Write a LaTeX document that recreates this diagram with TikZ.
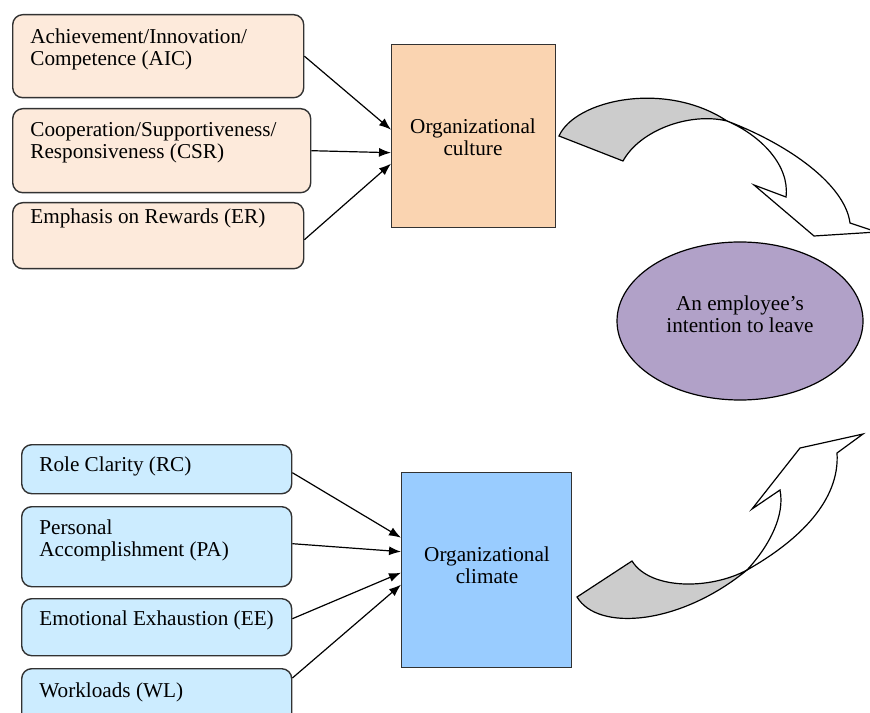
\documentclass[tikz,border=0pt]{standalone}
\usepackage{fontspec}
\setmainfont{Liberation Serif}
\usetikzlibrary{arrows.meta,shapes.geometric}
\definecolor{peachlight}{RGB}{253,234,219}
\definecolor{peach}{RGB}{250,212,177}
\definecolor{bluelight}{RGB}{204,236,255}
\definecolor{blue}{RGB}{153,204,255}
\definecolor{lavender}{RGB}{177,161,200}
\definecolor{edge}{RGB}{50,50,50}
\begin{document}
\begin{tikzpicture}[x=0.5pt, y=0.5pt,
        every node/.style={font=\fontsize{10.6}{11}\selectfont},
        factor/.style={draw=edge, line width=0.7pt, rounded corners=5pt, anchor=north west},
        centerbox/.style={draw=edge, line width=0.7pt, anchor=north west},
        factortext/.style={anchor=north west, inner sep=0pt, align=left},
        link/.style={line width=0.6pt, -{Latex[length=6pt,width=4.5pt]}},
        bentarrow/.style={draw=black, line width=0.6pt, line join=miter}]
    \useasboundingbox (0,0) rectangle (870,712);
    \clip (0,0) rectangle (870,712);

    \node[factor, fill=peachlight, minimum width=145.5pt, minimum height=41.5pt] (aic) at (12,698) {};
    \node[factortext] (aictext) at (30,683.5) {Achievement/Innovation/\\Competence (AIC)};
    \node[factor, fill=peachlight, minimum width=149pt, minimum height=42pt] (csr) at (12,604) {};
    \node[factortext] (csrtext) at (30,589.5) {Cooperation/Supportiveness/\\Responsiveness (CSR)};
    \node[factor, fill=peachlight, minimum width=145.5pt, minimum height=33pt] (er) at (12,510) {};
    \node[factortext] (ertext) at (30,504) {Emphasis on Rewards (ER)};
    \node[centerbox, fill=peach, minimum width=82pt, minimum height=91.5pt] (culture) at (391,668) {};
    \node[align=center] (culturetext) at (473,575) {Organizational\\culture};

    \node[factor, fill=bluelight, minimum width=135pt, minimum height=24.5pt] (rc) at (21,268) {};
    \node[factortext] (rctext) at (39,256) {Role Clarity (RC)};
    \node[factor, fill=bluelight, minimum width=135pt, minimum height=40pt] (pa) at (21,206) {};
    \node[factortext] (patext) at (39,192.6) {Personal\\Accomplishment (PA)};
    \node[factor, fill=bluelight, minimum width=135pt, minimum height=28.5pt] (ee) at (21,114) {};
    \node[factortext] (eetext) at (39,101.6) {Emotional Exhaustion (EE)};
    \node[factor, fill=bluelight, minimum width=135pt, minimum height=35pt] (wl) at (21,44) {};
    \node[factortext] (wltext) at (39,30) {Workloads (WL)};
    \node[centerbox, fill=blue, minimum width=85pt, minimum height=97.5pt] (climate) at (401,240) {};
    \node[align=center] (climatetext) at (487,147) {Organizational\\climate};

    \node[ellipse, draw=black, line width=0.6pt, fill=lavender, minimum width=123pt, minimum height=79pt] (leave) at (740,391) {};
    \node[align=center] (leavetext) at (740,398) {An employee's\\intention to leave};

    \draw[link] (aic.east) -- ([yshift=3.25pt]culture.west);
    \draw[link] (csr.east) -- ([yshift=-8.25pt]culture.west);
    \draw[link] ([yshift=-2pt]er.east) -- ([yshift=-13.75pt]culture.west);

    \draw[link] ([yshift=-1.75pt]rc.east) -- ([yshift=16.25pt]climate.west);
    \draw[link] ([yshift=1.5pt]pa.east) -- ([yshift=9.25pt]climate.west);
    \draw[link] ([yshift=4.25pt]ee.east) -- ([yshift=-1.25pt]climate.west);
    \draw[link] ([yshift=-5pt]wl.north east) -- ([yshift=-7.25pt]climate.west);

    \draw[bentarrow, fill=gray!40] (559,576) -- (623,551) .. controls (640,582) and (690,600) .. (727,591)
        .. controls (665,632) and (575,612) .. (559,576) -- cycle;
    \draw[bentarrow, fill=white] (727,591) .. controls (760,577) and (790,547) .. (786,515) -- (754,527) -- (814,476)
        -- (877,480) -- (850,489) .. controls (845,527) and (790,567) .. (727,591) -- cycle;

    \draw[bentarrow, fill=gray!40] (577,115) -- (632,151) .. controls (650,122) and (710,122) .. (747,142)
        .. controls (680,87) and (598,80) .. (577,115) -- cycle;
    \draw[bentarrow, fill=white] (747,142) .. controls (770,167) and (785,197) .. (780,222) -- (752,203) -- (800,264)
        -- (863,278) -- (837,259) .. controls (840,212) and (800,172) .. (747,142) -- cycle;
\end{tikzpicture}
\end{document}
